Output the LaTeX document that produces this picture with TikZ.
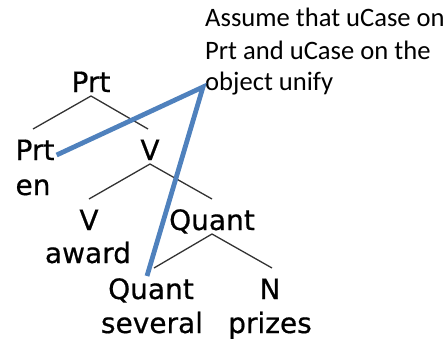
\documentclass[tikz,border=0pt]{standalone}
\usepackage{fontspec}
\setmainfont{DejaVu Sans}[FakeBold=0.6]
\newfontfamily\notefont{Carlito}
\usetikzlibrary{calc}
\definecolor{callout}{RGB}{79,129,189}
\begin{document}
\begin{tikzpicture}[x=1pt,y=-1pt,
  lab/.style={anchor=base,inner sep=0pt,font=\fontsize{28}{34}\selectfont},
  note/.style={anchor=base west,inner sep=0pt,font=\notefont\fontsize{26.6}{32}\selectfont},
  branch/.style={line width=1.3pt,draw=black!80},
  link/.style={line width=4.8pt,draw=callout}]
\useasboundingbox (0,0) rectangle (447,340);
% note text
\node[note] (t1) at (205,27) {Assume that uCase on};
\node[note] (t2) at (205,59) {Prt and uCase on the};
\node[note] (t3) at (205,90) {object unify};
% tree labels
\node[lab] (root) at (91,92) {Prt};
\node[lab] (prtL) at (35,160) {Prt};
\node[lab] (vM) at (150,160) {V};
\node[lab] (en) at (33,195) {en};
\node[lab] (vL) at (89,230) {V};
\node[lab] (quantM) at (212,230) {Quant};
\node[lab] (award) at (88,263) {award};
\node[lab] (quantL) at (151,299) {Quant};
\node[lab] (nN) at (270,299) {N};
\node[lab] (several) at (152,333) {several};
\node[lab] (prizes) at (270,333) {prizes};
% branches
\draw[branch] ([xshift=-2pt,yshift=31pt]prtL.base) -- ([yshift=-4pt]root.base) -- ([xshift=-2pt,yshift=31pt]vM.base);
\draw[branch] ([yshift=31pt]vL.base) -- ([yshift=-4pt]vM.base) -- ([yshift=31pt]quantM.base);
\draw[branch] ([xshift=3pt,yshift=31pt]quantL.base) -- ([yshift=-4pt]quantM.base) -- ([xshift=2pt,yshift=31pt]nN.base);
% callout line
\coordinate (apex) at ([xshift=-2pt,yshift=3pt]t3.base west);
\coordinate (endA) at ([xshift=2pt,yshift=5pt]prtL.base east);
\coordinate (endB) at ([xshift=-4pt,yshift=23pt]quantL.base);
\draw[link] (endA) -- (apex) -- (endB);
\end{tikzpicture}
\end{document}
